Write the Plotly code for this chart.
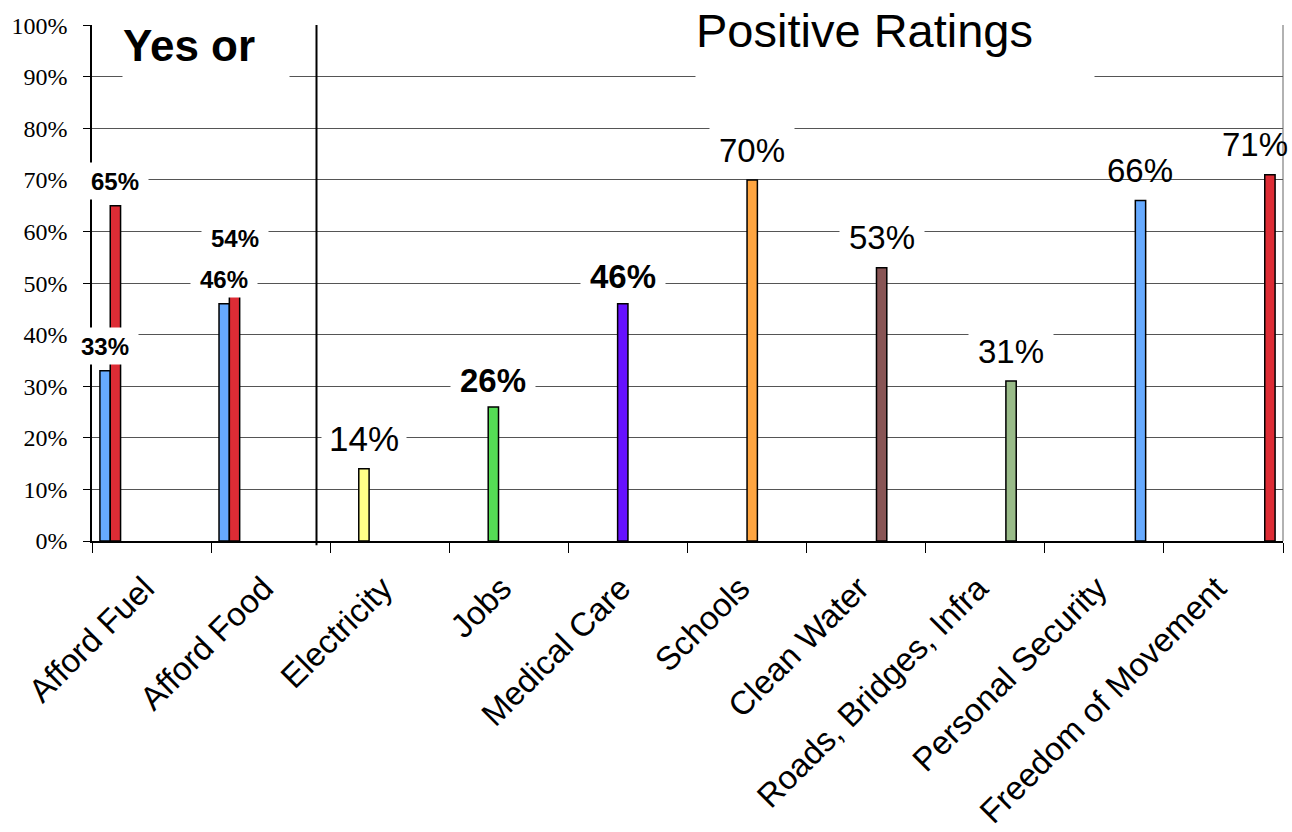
import plotly.graph_objects as go

categories = ["Afford Fuel", "Afford Food", "Electricity", "Jobs", "Medical Care",
              "Schools", "Clean Water", "Roads, Bridges, Infra", "Personal Security",
              "Freedom of Movement"]

# one series per group slot (grouped bars, empty slots elsewhere)
yes_blue = [33, 46, None, None, None, None, None, None, None, None]
yes_red = [65, 54, None, None, None, None, None, None, None, None]
electricity = [None, None, 14, None, None, None, None, None, None, None]
jobs = [None, None, None, 26, None, None, None, None, None, None]
medical = [None, None, None, None, 46, None, None, None, None, None]
schools = [None, None, None, None, None, 70, None, None, None, None]
water = [None, None, None, None, None, None, 53, None, None, None]
roads = [None, None, None, None, None, None, None, 31, None, None]
security = [None, None, None, None, None, None, None, None, 66, None]
freedom = [None, None, None, None, None, None, None, None, None, 71]

series = [yes_blue, yes_red, electricity, jobs, medical, schools, water, roads, security, freedom]
colors = ["#66AAFF", "#DD2C35", "#FFFF88", "#55DD55", "#6611FF",
          "#FFA540", "#885555", "#99BB88", "#66AAFF", "#DD2C35"]

SANS = "Liberation Sans, Arial, sans-serif"
SERIF = "Liberation Serif, Times New Roman, serif"

BARGAP = 0.133
n = len(series)
bw = (1 - BARGAP) / n

fig = go.Figure()
for s, c in zip(series, colors):
    fig.add_trace(go.Bar(x=categories, y=s, marker=dict(color=c, line=dict(color="black", width=1.5)),
                         showlegend=False, hoverinfo="skip"))

annotations = []
for i, s in enumerate(series):
    for j, v in enumerate(s):
        if v is None:
            continue
        xc = j - (1 - BARGAP) / 2 + (i + 0.5) * bw
        if i < 2:
            font = dict(family=SANS, size=24, color="black")
            text = f"<b>{v}%</b>"
            w, h, dy, bg, xs = 66, 36, 4.8, "white", 0
        else:
            bold = i in (3, 4)
            size = 35 if i == 2 else 33
            font = dict(family=SANS, size=size, color="black")
            text = f"<b>{v}%</b>" if bold else f"{v}%"
            dy = 5.3 if bold else 5.9
            w, h = 84, 44
            bg = "white" if i < 8 else "rgba(0,0,0,0)"
            xs = -15 if i == 9 else 0
        annotations.append(dict(x=xc, y=v + dy, xref="x", yref="y", text=text, showarrow=False,
                                font=font, bgcolor=bg, width=w, height=h, borderpad=0,
                                xanchor="center", yanchor="middle", xshift=xs))

# title boxes (pixel positions converted to paper coordinates)
PX0, PW, PY0, PH = 92.3, 1190.7, 541.0, 515.5
annotations.append(dict(x=(122 - PX0) / PW, y=(PY0 - 21) / PH, xref="paper", yref="paper",
                        text="<b>Yes or</b>", showarrow=False, xanchor="left", yanchor="top",
                        font=dict(family=SANS, size=44, color="black"), bgcolor="white",
                        width=166, height=82, align="left", valign="top", borderpad=0))
annotations.append(dict(x=(695 - PX0) / PW, y=(PY0 - 4) / PH, xref="paper", yref="paper",
                        text="Positive Ratings", showarrow=False, xanchor="left", yanchor="top",
                        font=dict(family=SANS, size=47, color="black"), bgcolor="white",
                        width=398, height=96, align="left", valign="top", borderpad=0))

shapes = [
    dict(type="line", xref="x", yref="paper", x0=1.385, x1=1.385, y0=-0.008, y1=1,
         line=dict(color="black", width=2), layer="above"),
    dict(type="line", xref="paper", yref="paper", x0=1, x1=1, y0=0, y1=1,
         line=dict(color="#999999", width=1.5), layer="below"),
]

fig.update_layout(
    width=1292, height=832,
    margin=dict(l=92, r=9, t=25, b=291),
    paper_bgcolor="white", plot_bgcolor="white",
    barmode="group", bargap=BARGAP, bargroupgap=0,
    annotations=annotations, shapes=shapes,
    xaxis=dict(categoryorder="array", categoryarray=categories, range=[-0.5, 9.5],
               tickson="boundaries", automargin=False,
               ticks="outside", ticklen=10, tickcolor="black", showline=True, linecolor="black",
               linewidth=1.5, tickangle=-45, tickfont=dict(family=SANS, size=33, color="black"),
               ticklabelshift=-7, ticklabelstandoff=13,
               showgrid=False),
    yaxis=dict(range=[0, 100.05], dtick=10, ticksuffix="%", showline=True, linecolor="black",
               linewidth=1.5, ticks="outside", ticklen=7, tickcolor="black", automargin=False,
               gridcolor="#555555", gridwidth=1, zeroline=False,
               tickfont=dict(family=SERIF, size=24, color="black"), ticklabelstandoff=11),
)

fig.write_html("out.html", config={"displayModeBar": False},
               post_script="document.body.style.margin='0px';")
